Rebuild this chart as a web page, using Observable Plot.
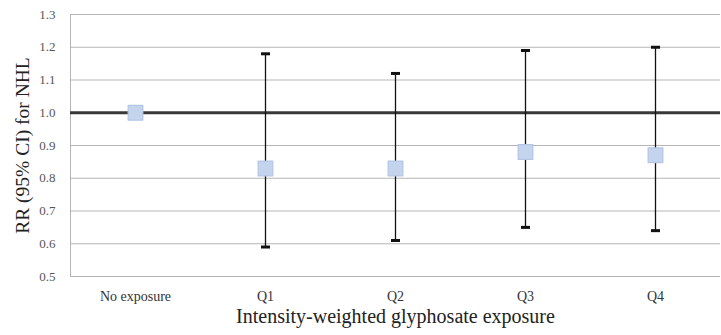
<!DOCTYPE html>
<html>
<head>
<meta charset="utf-8">
<script src="https://cdn.jsdelivr.net/npm/d3@7"></script>
<script src="https://cdn.jsdelivr.net/npm/@observablehq/plot@0.6"></script>
<style>
  body { margin: 0; background: #fff; }
  svg { display: block; }
</style>
</head>
<body>
<div id="chart"></div>
<script>
const categories = ["No exposure", "Q1", "Q2", "Q3", "Q4"];
const rr    = [1.00, 0.83, 0.83, 0.88, 0.87];
const lower = [null, 0.59, 0.61, 0.65, 0.64];
const upper = [null, 1.18, 1.12, 1.19, 1.20];
const yTicks = [0.5, 0.6, 0.7, 0.8, 0.9, 1.0, 1.1, 1.2, 1.3];
const referenceValue = [1.0];
const yTitle = "RR (95% CI) for NHL";
const xTitle = "Intensity-weighted glyphosate exposure";

const rows = categories.map((c, i) => ({cat: c, rr: rr[i], lo: lower[i], hi: upper[i]}));
const ci = rows.filter(d => d.lo != null);

const capSymbol = {
  draw(ctx, size) {
    const r = Math.sqrt(size / Math.PI);
    ctx.moveTo(-r, 0);
    ctx.lineTo(r, 0);
  }
};

const serif = "'Liberation Serif', 'Times New Roman', serif";

const chart = Plot.plot({
  width: 721,
  height: 335,
  marginLeft: 70,
  marginRight: 1,
  marginTop: 14,
  marginBottom: 59,
  style: {fontFamily: serif, background: "#fff"},
  x: {type: "point", domain: categories, padding: 0.5},
  y: {domain: [0.5, 1.3]},
  marks: [
    Plot.ruleY(yTicks, {stroke: "#b5b5b5", strokeWidth: 1}),
    Plot.frame({anchor: "left", stroke: "#b5b5b5"}),
    Plot.ruleY(referenceValue, {stroke: "#383838", strokeWidth: 3}),
    Plot.ruleX(ci, {x: "cat", y1: "lo", y2: "hi", stroke: "#111", strokeWidth: 1.3}),
    Plot.dot(ci, {x: "cat", y: "lo", symbol: capSymbol, r: 4.5, stroke: "#111", strokeWidth: 3}),
    Plot.dot(ci, {x: "cat", y: "hi", symbol: capSymbol, r: 4.5, stroke: "#111", strokeWidth: 3}),
    Plot.dot(rows, {x: "cat", y: "rr", symbol: "square", r: 8.3, fill: "#c3d4ec", stroke: "#b3c6e3", strokeWidth: 1.2, strokeLinejoin: "round"}),
    Plot.axisY(yTicks, {tickSize: 0, tickPadding: 15, tickFormat: d3.format(".1f"), fontSize: 13, color: "#555", label: null}),
    Plot.axisX({tickSize: 0, tickPadding: 15, fontSize: 14, color: "#333", label: null}),
    Plot.text([yTitle], {frameAnchor: "left", rotate: -90, dx: -48, textAnchor: "middle", fontSize: 19.5, fill: "#222"}),
    Plot.text([xTitle], {frameAnchor: "bottom", dy: 46, textAnchor: "middle", fontSize: 20, fill: "#222"})
  ]
});
document.getElementById("chart").appendChild(chart);
</script>
</body>
</html>
